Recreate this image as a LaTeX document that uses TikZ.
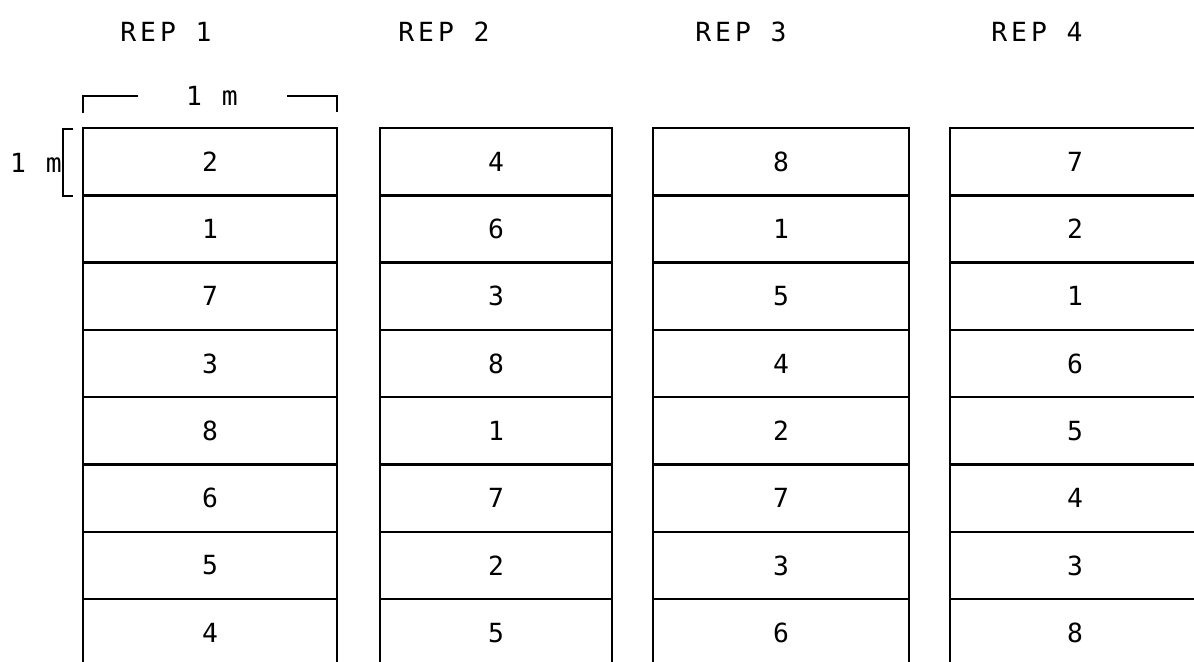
\documentclass[tikz,border=0pt]{standalone}
\usepackage{fontspec}
\setmainfont[LetterSpace=15]{DejaVu Sans Mono}
\usepackage{tikz}

\begin{document}
\begin{tikzpicture}[
    x=0.02cm, y=-0.02cm,
    plotbox/.style={rectangle, draw, line width=1.4pt, minimum height=1.346cm, inner sep=0pt, font=\fontsize{15}{18}\selectfont},
    reptext/.style={font=\fontsize{15}{18}\selectfont},
    dim/.style={line width=1.2pt}
]

% Frame
\fill[white] (0,0) rectangle (1194,662);
\useasboundingbox (0,0) rectangle (1194,662);
\clip (0,0) rectangle (1194,662);

% Replicate headings
\node[reptext] (rep1) at (166,32) {REP 1};
\node[reptext] (rep2) at (444,32) {REP 2};
\node[reptext] (rep3) at (741,32) {REP 3};
\node[reptext] (rep4) at (1037,32) {REP 4};

% Plots
\foreach \r/\xl/\xr/\trts in {1/83/337/{2,1,7,3,8,6,5,4}, 2/380/612/{4,6,3,8,1,7,2,5}, 3/653/909/{8,1,5,4,2,7,3,6}, 4/950/1200/{7,2,1,6,5,4,3,8}}
    \foreach \t [count=\i] in \trts
        \node[plotbox, minimum width={(\xr-\xl)*0.02cm}] (r\r p\i) at ({(\xl+\xr)/2}, {128+67.3*(\i-0.5)}) {\t};

% Plot width
\draw[dim] (83,113) -- (83,96) -- (138,96);
\draw[dim] (287,96) -- (337,96) -- (337,112);
\node[reptext] (pwidth) at (212,96) {1 m};

% Plot length
\draw[dim] (73,129) -- (63,129) -- (63,196) -- (73,196);
\node[reptext] (plength) at (36,163) {1 m};

\end{tikzpicture}
\end{document}
